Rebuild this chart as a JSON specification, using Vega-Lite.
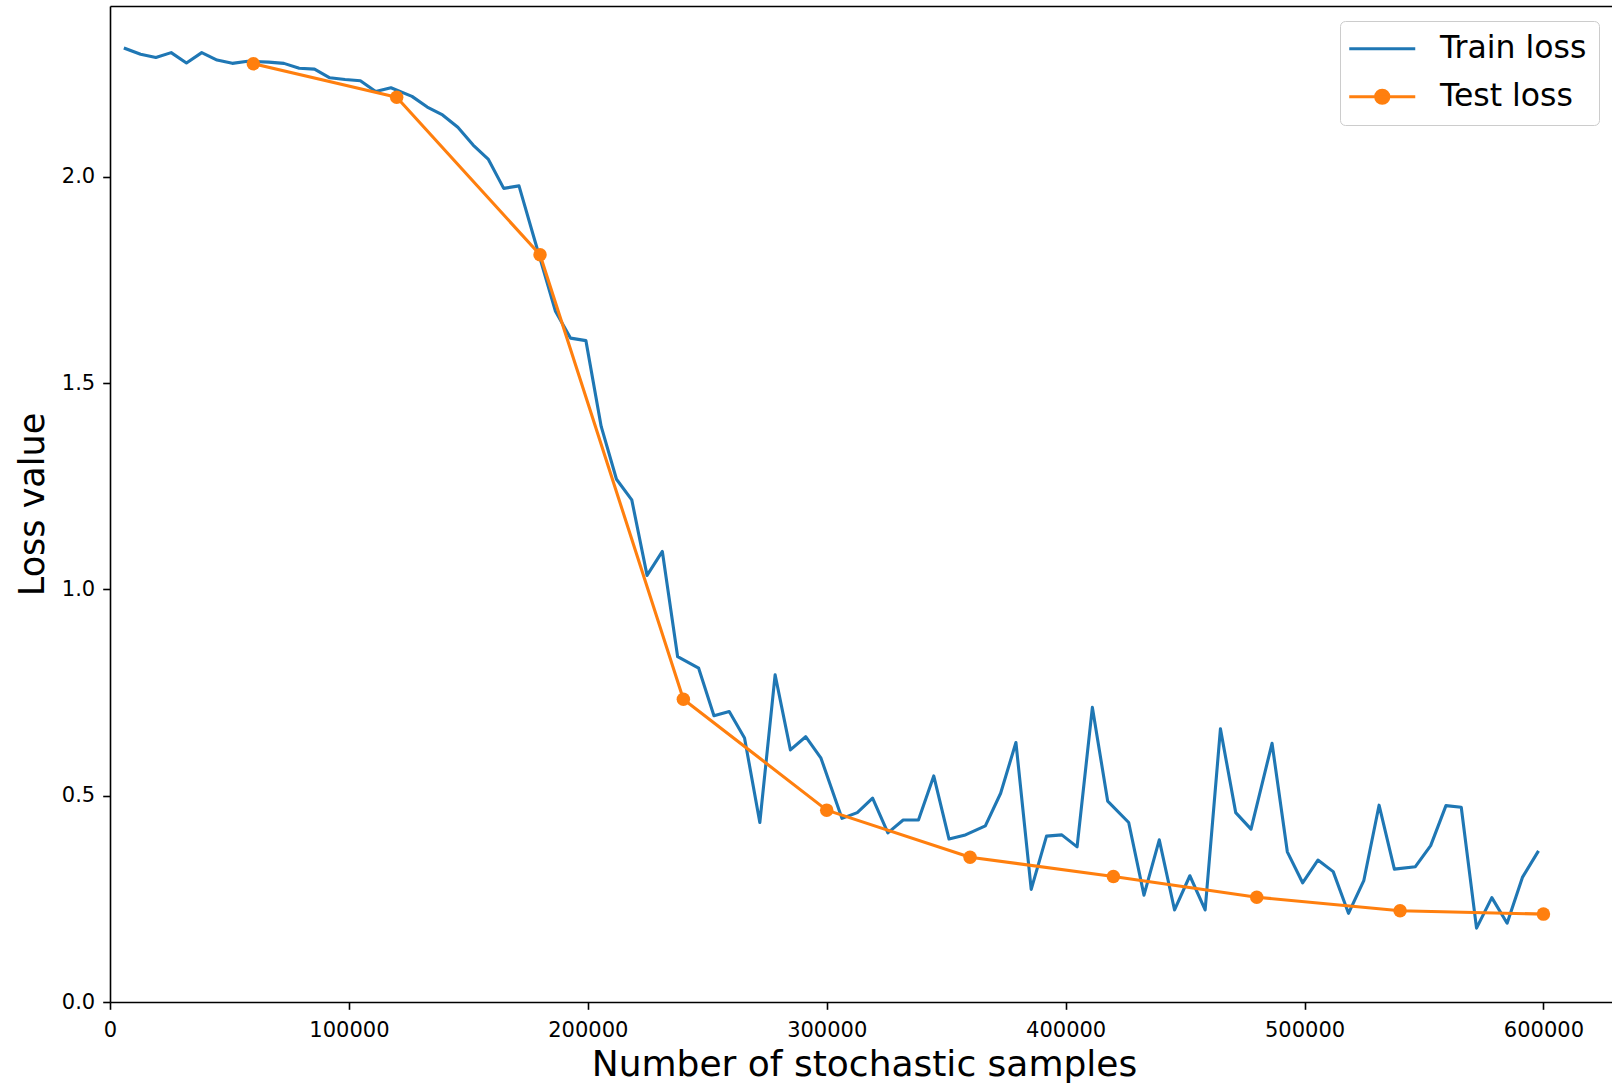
{
  "$schema": "https://vega.github.io/schema/vega-lite/v6.json",
  "width": 1502,
  "height": 996,
  "autosize": {"type": "none"},
  "padding": {"left": 110, "top": 6, "right": 0, "bottom": 81},
  "background": "white",
  "config": {"view": {"stroke": null}, "font": "DejaVu Sans"},
  "data": {"values": [
    {"samples": 6400, "loss": 2.311, "series": "Train loss"},
    {"samples": 12800, "loss": 2.297, "series": "Train loss"},
    {"samples": 19200, "loss": 2.289, "series": "Train loss"},
    {"samples": 25600, "loss": 2.301, "series": "Train loss"},
    {"samples": 32000, "loss": 2.276, "series": "Train loss"},
    {"samples": 38400, "loss": 2.301, "series": "Train loss"},
    {"samples": 44800, "loss": 2.283, "series": "Train loss"},
    {"samples": 51200, "loss": 2.275, "series": "Train loss"},
    {"samples": 57600, "loss": 2.280, "series": "Train loss"},
    {"samples": 66400, "loss": 2.278, "series": "Train loss"},
    {"samples": 72800, "loss": 2.275, "series": "Train loss"},
    {"samples": 79200, "loss": 2.263, "series": "Train loss"},
    {"samples": 85600, "loss": 2.261, "series": "Train loss"},
    {"samples": 92000, "loss": 2.240, "series": "Train loss"},
    {"samples": 98400, "loss": 2.236, "series": "Train loss"},
    {"samples": 104800, "loss": 2.233, "series": "Train loss"},
    {"samples": 111200, "loss": 2.207, "series": "Train loss"},
    {"samples": 117600, "loss": 2.216, "series": "Train loss"},
    {"samples": 126400, "loss": 2.195, "series": "Train loss"},
    {"samples": 132800, "loss": 2.169, "series": "Train loss"},
    {"samples": 139200, "loss": 2.150, "series": "Train loss"},
    {"samples": 145600, "loss": 2.120, "series": "Train loss"},
    {"samples": 152000, "loss": 2.077, "series": "Train loss"},
    {"samples": 158400, "loss": 2.042, "series": "Train loss"},
    {"samples": 164800, "loss": 1.972, "series": "Train loss"},
    {"samples": 171200, "loss": 1.978, "series": "Train loss"},
    {"samples": 177600, "loss": 1.850, "series": "Train loss"},
    {"samples": 186400, "loss": 1.675, "series": "Train loss"},
    {"samples": 192800, "loss": 1.609, "series": "Train loss"},
    {"samples": 199200, "loss": 1.603, "series": "Train loss"},
    {"samples": 205600, "loss": 1.395, "series": "Train loss"},
    {"samples": 212000, "loss": 1.267, "series": "Train loss"},
    {"samples": 218400, "loss": 1.217, "series": "Train loss"},
    {"samples": 224800, "loss": 1.034, "series": "Train loss"},
    {"samples": 231200, "loss": 1.092, "series": "Train loss"},
    {"samples": 237600, "loss": 0.837, "series": "Train loss"},
    {"samples": 246400, "loss": 0.809, "series": "Train loss"},
    {"samples": 252800, "loss": 0.694, "series": "Train loss"},
    {"samples": 259200, "loss": 0.704, "series": "Train loss"},
    {"samples": 265600, "loss": 0.640, "series": "Train loss"},
    {"samples": 272000, "loss": 0.435, "series": "Train loss"},
    {"samples": 278400, "loss": 0.793, "series": "Train loss"},
    {"samples": 284800, "loss": 0.611, "series": "Train loss"},
    {"samples": 291200, "loss": 0.643, "series": "Train loss"},
    {"samples": 297600, "loss": 0.591, "series": "Train loss"},
    {"samples": 306400, "loss": 0.445, "series": "Train loss"},
    {"samples": 312800, "loss": 0.459, "series": "Train loss"},
    {"samples": 319200, "loss": 0.494, "series": "Train loss"},
    {"samples": 325600, "loss": 0.410, "series": "Train loss"},
    {"samples": 332000, "loss": 0.441, "series": "Train loss"},
    {"samples": 338400, "loss": 0.441, "series": "Train loss"},
    {"samples": 344800, "loss": 0.548, "series": "Train loss"},
    {"samples": 351200, "loss": 0.395, "series": "Train loss"},
    {"samples": 357600, "loss": 0.404, "series": "Train loss"},
    {"samples": 366400, "loss": 0.427, "series": "Train loss"},
    {"samples": 372800, "loss": 0.506, "series": "Train loss"},
    {"samples": 379200, "loss": 0.629, "series": "Train loss"},
    {"samples": 385600, "loss": 0.273, "series": "Train loss"},
    {"samples": 392000, "loss": 0.402, "series": "Train loss"},
    {"samples": 398400, "loss": 0.405, "series": "Train loss"},
    {"samples": 404800, "loss": 0.376, "series": "Train loss"},
    {"samples": 411200, "loss": 0.714, "series": "Train loss"},
    {"samples": 417600, "loss": 0.487, "series": "Train loss"},
    {"samples": 426400, "loss": 0.435, "series": "Train loss"},
    {"samples": 432800, "loss": 0.259, "series": "Train loss"},
    {"samples": 439200, "loss": 0.393, "series": "Train loss"},
    {"samples": 445600, "loss": 0.223, "series": "Train loss"},
    {"samples": 452000, "loss": 0.306, "series": "Train loss"},
    {"samples": 458400, "loss": 0.223, "series": "Train loss"},
    {"samples": 464800, "loss": 0.662, "series": "Train loss"},
    {"samples": 471200, "loss": 0.459, "series": "Train loss"},
    {"samples": 477600, "loss": 0.419, "series": "Train loss"},
    {"samples": 486400, "loss": 0.627, "series": "Train loss"},
    {"samples": 492800, "loss": 0.364, "series": "Train loss"},
    {"samples": 499200, "loss": 0.289, "series": "Train loss"},
    {"samples": 505600, "loss": 0.344, "series": "Train loss"},
    {"samples": 512000, "loss": 0.316, "series": "Train loss"},
    {"samples": 518400, "loss": 0.215, "series": "Train loss"},
    {"samples": 524800, "loss": 0.294, "series": "Train loss"},
    {"samples": 531200, "loss": 0.477, "series": "Train loss"},
    {"samples": 537600, "loss": 0.322, "series": "Train loss"},
    {"samples": 546400, "loss": 0.328, "series": "Train loss"},
    {"samples": 552800, "loss": 0.379, "series": "Train loss"},
    {"samples": 559200, "loss": 0.476, "series": "Train loss"},
    {"samples": 565600, "loss": 0.472, "series": "Train loss"},
    {"samples": 572000, "loss": 0.179, "series": "Train loss"},
    {"samples": 578400, "loss": 0.253, "series": "Train loss"},
    {"samples": 584800, "loss": 0.191, "series": "Train loss"},
    {"samples": 591200, "loss": 0.302, "series": "Train loss"},
    {"samples": 597600, "loss": 0.363, "series": "Train loss"},
    {"samples": 60000, "loss": 2.274, "series": "Test loss"},
    {"samples": 120000, "loss": 2.193, "series": "Test loss"},
    {"samples": 180000, "loss": 1.811, "series": "Test loss"},
    {"samples": 240000, "loss": 0.734, "series": "Test loss"},
    {"samples": 300000, "loss": 0.465, "series": "Test loss"},
    {"samples": 360000, "loss": 0.351, "series": "Test loss"},
    {"samples": 420000, "loss": 0.304, "series": "Test loss"},
    {"samples": 480000, "loss": 0.254, "series": "Test loss"},
    {"samples": 540000, "loss": 0.221, "series": "Test loss"},
    {"samples": 600000, "loss": 0.213, "series": "Test loss"}
  ]},
  "encoding": {
    "y": {
      "field": "loss", "type": "quantitative",
      "scale": {"domain": [0, 2.414], "nice": false, "zero": false},
      "axis": {
        "orient": "left",
        "values": [0, 0.5, 1, 1.5, 2],
        "format": ".1f",
        "labelFont": "DejaVu Sans", "labelFontSize": 21, "labelColor": "black",
        "labelPadding": 8, "labelFlush": false, "labelOverlap": false,
        "tickSize": 7.3, "tickWidth": 1.6, "tickColor": "black",
        "domainColor": "black", "domainWidth": 1.6, "grid": false,
        "title": "Loss value",
        "titleFont": "DejaVu Sans", "titleFontSize": 35, "titleFontWeight": "normal", "titleColor": "black",
        "titleX": -66.5, "titleY": 498, "titleAngle": 270, "titleBaseline": "alphabetic", "titleAlign": "center"
      }
    },
    "color": {
      "field": "series", "type": "nominal",
      "scale": {"domain": ["Train loss", "Test loss"], "range": ["#1f77b4", "#ff7f0e"]},
      "legend": {
        "orient": "none", "legendX": 1230, "legendY": 15,
        "title": null,
        "padding": 12,
        "labelFont": "DejaVu Sans", "labelFontSize": 31.5, "labelColor": "black",
        "symbolSize": 484, "symbolOffset": 14.5, "labelOffset": 42,
        "symbolStrokeWidth": 3,
        "rowPadding": 15,
        "strokeColor": "#cccccc", "fillColor": "rgba(255,255,255,0.8)", "cornerRadius": 5,
        "encoding": {
          "symbols": {
            "shape": {"condition": {"test": "datum.value === 'Test loss'", "value": "M-3,0H3M0.6,0A0.6,0.6,0,1,1,-0.6,0A0.6,0.6,0,1,1,0.6,0Z"}, "value": "M-3,0H3"},
            "fill": {"condition": {"test": "datum.value === 'Test loss'", "value": "#ff7f0e"}, "value": "#1f77b4"},
            "stroke": {"condition": {"test": "datum.value === 'Test loss'", "value": "#ff7f0e"}, "value": "#1f77b4"},
            "strokeWidth": {"value": 3},
            "opacity": {"value": 1}
          }
        }
      }
    }
  },
  "resolve": {"axis": {"x": "independent"}},
  "layer": [
    {
      "transform": [{"filter": "datum.series === 'Train loss'"}],
      "mark": {"type": "line", "strokeWidth": 3.1, "strokeJoin": "round", "strokeCap": "square"},
      "encoding": {
        "x": {
          "field": "samples", "type": "quantitative",
          "scale": {"domain": [0, 628700], "nice": false, "zero": false},
          "axis": {
            "orient": "bottom",
            "values": [0, 100000, 200000, 300000, 400000, 500000, 600000],
            "format": "d",
            "labelFont": "DejaVu Sans", "labelFontSize": 21, "labelColor": "black",
            "labelPadding": 10.6, "labelFlush": false, "labelOverlap": false,
            "tickSize": 7.3, "tickWidth": 1.6, "tickColor": "black",
            "domainColor": "black", "domainWidth": 1.6, "grid": false,
            "title": "Number of stochastic samples",
            "titleFont": "DejaVu Sans", "titleFontSize": 36, "titleFontWeight": "normal", "titleColor": "black",
            "titleX": 754, "titleY": 73, "titleBaseline": "alphabetic", "titleAlign": "center"
          }
        }
      }
    },
    {
      "transform": [{"filter": "datum.series === 'Test loss'"}],
      "mark": {"type": "line", "strokeWidth": 3.1, "strokeJoin": "round", "strokeCap": "square"},
      "encoding": {
        "x": {"field": "samples", "type": "quantitative", "axis": null}
      }
    },
    {
      "transform": [{"filter": "datum.series === 'Test loss'"}],
      "mark": {"type": "point", "filled": true, "size": 182, "opacity": 1, "shape": "circle"},
      "encoding": {
        "x": {
          "field": "samples", "type": "quantitative",
          "axis": {"orient": "top", "labels": false, "ticks": false, "domain": true, "grid": false, "title": null, "domainColor": "black", "domainWidth": 1.6}
        }
      }
    }
  ]
}
